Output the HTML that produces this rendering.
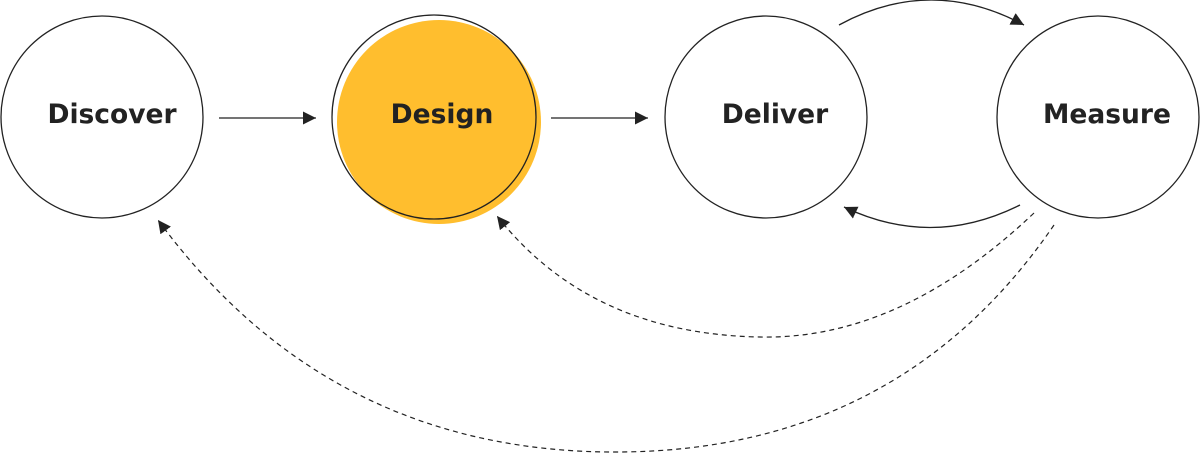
<!DOCTYPE html>
<html><head><style>
html,body{margin:0;padding:0;background:#fff;}
svg{display:block}
text{font-family:"DejaVu Sans","Liberation Sans",sans-serif;font-weight:bold;font-size:26.5px;fill:#222;}
</style></head><body>
<svg width="1200" height="454" viewBox="0 0 1200 454" xmlns="http://www.w3.org/2000/svg">
<defs>
<marker id="a" viewBox="0 0 10 10" refX="10" refY="5" markerWidth="13" markerHeight="13" markerUnits="userSpaceOnUse" orient="auto">
<path d="M0,0 L10,5 L0,10 z" fill="#222"/></marker>
</defs>
<circle cx="102" cy="117" r="101" fill="none" stroke="#222" stroke-width="1.3"/>
<circle cx="439" cy="122" r="102" fill="#ffbe2e"/>
<circle cx="434" cy="117" r="102" fill="none" stroke="#222" stroke-width="1.3"/>
<circle cx="766" cy="117" r="101" fill="none" stroke="#222" stroke-width="1.3"/>
<circle cx="1098" cy="117" r="101" fill="none" stroke="#222" stroke-width="1.3"/>
<text x="112" y="123" text-anchor="middle">Discover</text>
<text x="442" y="123" text-anchor="middle">Design</text>
<text x="775" y="123" text-anchor="middle">Deliver</text>
<text x="1107" y="123" text-anchor="middle">Measure</text>
<line x1="219" y1="118" x2="316" y2="118" stroke="#222" stroke-width="1.3" marker-end="url(#a)"/>
<line x1="551" y1="118" x2="648" y2="118" stroke="#222" stroke-width="1.3" marker-end="url(#a)"/>
<path d="M839,25 Q931,-25 1024,25" fill="none" stroke="#222" stroke-width="1.3" marker-end="url(#a)"/>
<path d="M1020,205 Q932,249 844,207" fill="none" stroke="#222" stroke-width="1.3" marker-end="url(#a)"/>
<path d="M1034,213 Q900,340 760,337 Q590,334 497,216" fill="none" stroke="#222" stroke-width="1.2" stroke-dasharray="5,4" marker-end="url(#a)"/>
<path d="M1054,225 Q900,450 620,452 Q330,454 158,220" fill="none" stroke="#222" stroke-width="1.2" stroke-dasharray="5,4" marker-end="url(#a)"/>
</svg>
</body></html>
